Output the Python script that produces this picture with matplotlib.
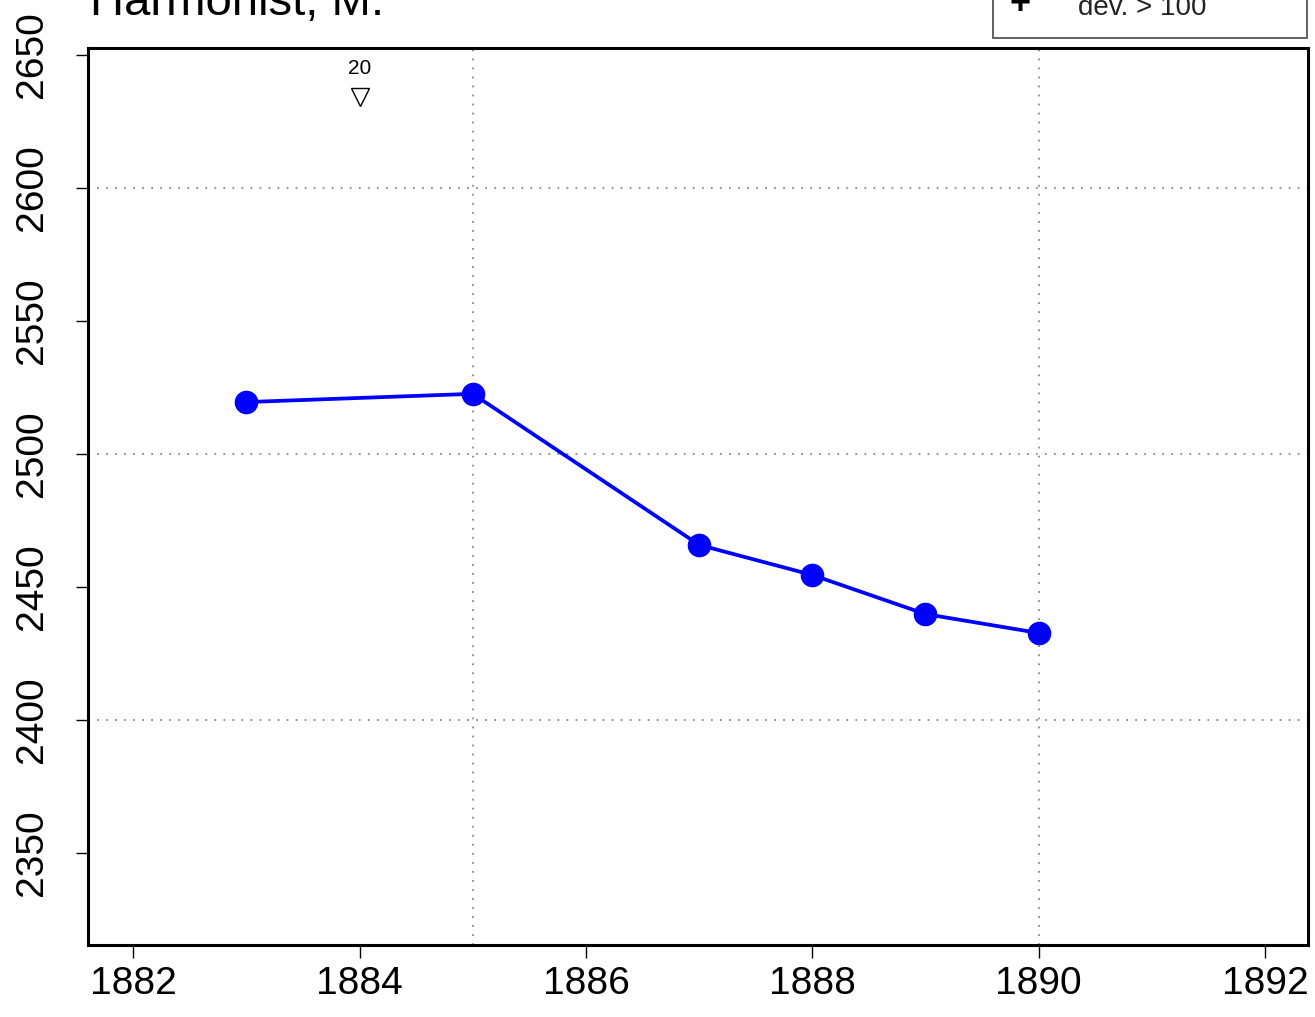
import matplotlib
matplotlib.use("Agg")
import matplotlib.pyplot as plt
from matplotlib.patches import Rectangle

plt.rcParams["font.family"] = ["Liberation Sans", "DejaVu Sans"]

# data
years = [1883, 1885, 1887, 1888, 1889, 1890]
values = [2519.5, 2522.6, 2465.8, 2454.5, 2439.8, 2432.7]
outlier_year = [1884]
outlier_value = [2634.2]
outlier_label = ["20"]
grid_x = [1885, 1890]
grid_y = [2400, 2500, 2600]
xticks = [1882, 1884, 1886, 1888, 1890, 1892]
yticks = [2350, 2400, 2450, 2500, 2550, 2600, 2650]

fig = plt.figure(figsize=(13.15, 10.17), dpi=100)
ax = fig.add_axes([88 / 1315, 72 / 1017, 1220 / 1315, 897 / 1017])

for gx in grid_x:
    ax.axvline(gx, color="#888888", linestyle=(0, (1, 4)), linewidth=1.3, zorder=1)
for gy in grid_y:
    ax.axhline(gy, color="#888888", linestyle=(0, (1, 4)), linewidth=1.3, zorder=1)

ax.plot(years, values, color="#0000ff", linewidth=2.7, marker="o",
        markersize=16, zorder=3)

ax.plot(outlier_year, outlier_value, linestyle="none", marker="v",
        markersize=13, markerfacecolor="white", markeredgecolor="black",
        markeredgewidth=1.0, zorder=3)
for xv, yv, lab in zip(outlier_year, outlier_value, outlier_label):
    ax.annotate(lab, (xv, yv), xytext=(0, 14), textcoords="offset points",
                ha="center", va="bottom", fontsize=15)

ax.set_xlim(1881.6, 1892.38)
ax.set_ylim(2315.4, 2652.6)
ax.set_xticks(xticks)
ax.set_yticks(yticks)
ax.tick_params(axis="both", labelsize=28, length=9, width=1.0, direction="out")
ax.tick_params(axis="x", pad=6)
ax.tick_params(axis="y", pad=18)
for lab in ax.get_yticklabels():
    lab.set_rotation(90)
    lab.set_va("center")
for sp in ax.spines.values():
    sp.set_linewidth(2.2)

# title, partly cut off at the top like the reference
fig.text(90 / 1315, 1 - 15 / 1017, "Harmonist, M.", fontsize=34,
         ha="left", va="baseline")

# legend box, only its bottom row visible
box = Rectangle((993 / 1315, 1 - 38 / 1017), 314 / 1315, 80 / 1017,
                transform=fig.transFigure, facecolor="white",
                edgecolor="#555555", linewidth=1.3, clip_on=False)
fig.patches.append(box)
fig.text(1020 / 1315, 1 - 14 / 1017, "+", fontsize=26, fontweight="bold",
         ha="center", va="baseline")
fig.text(1078 / 1315, 1 - 15 / 1017, "dev. > 100", fontsize=20,
         ha="left", va="baseline", color="#222222")

fig.savefig("out.png", dpi=100)
plt.close(fig)
